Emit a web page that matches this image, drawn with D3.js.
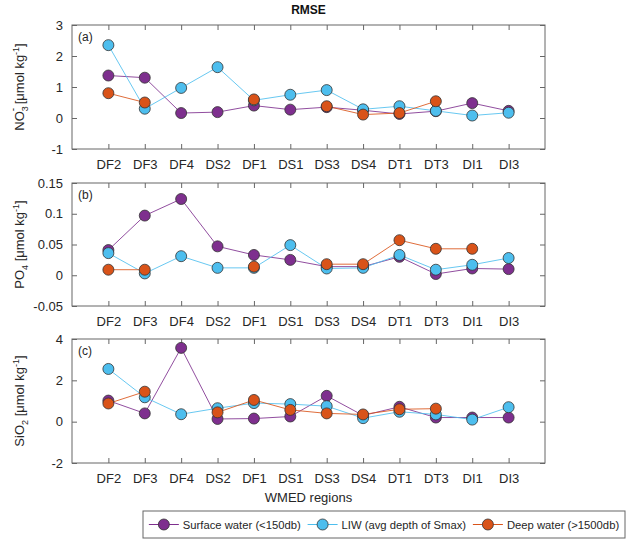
<!DOCTYPE html>
<html><head><meta charset="utf-8">
<script src="https://cdn.jsdelivr.net/npm/d3@7"></script>
<style>
body{margin:0;background:#fff;}
text{font-family:"Liberation Sans",Arial,sans-serif;}
</style></head>
<body><svg id="c" width="635" height="542"></svg>
<script>
const categories = ["DF2","DF3","DF4","DS2","DF1","DS1","DS3","DS4","DT1","DT3","DI1","DI3"];
const seriesNames = ["Surface water (<150db)","LIW (avg depth of Smax)","Deep water (>1500db)"];
const seriesColors = ["#7E2F8E","#4DBEEE","#D95319"];

// Panel (a) NO3
const no3Surface = [1.37,1.30,0.16,0.19,0.40,0.27,0.35,0.25,0.13,0.22,0.48,0.23];
const no3LIW     = [2.35,0.30,0.97,1.64,0.57,0.75,0.90,0.28,0.38,0.23,0.08,0.17];
const no3Deep    = [0.80,0.50,null,null,0.60,null,0.38,0.11,0.16,0.54,null,null];
// Panel (b) PO4
const po4Surface = [0.041,0.097,0.124,0.047,0.033,0.025,0.014,0.014,0.030,0.002,0.011,0.010];
const po4LIW     = [0.036,0.003,0.031,0.012,0.012,0.049,0.011,0.012,0.033,0.009,0.017,0.028];
const po4Deep    = [0.009,0.009,null,null,0.014,null,0.018,0.018,0.057,0.043,0.043,null];
// Panel (c) SiO2
const sio2Surface = [1.02,0.40,3.57,0.13,0.15,0.25,1.25,0.30,0.72,0.20,0.20,0.20];
const sio2LIW     = [2.55,1.18,0.36,0.65,0.90,0.85,0.75,0.17,0.48,0.35,0.10,0.70];
const sio2Deep    = [0.88,1.45,null,0.45,1.05,0.57,0.40,0.35,0.60,0.63,null,null];

const yTicksA = [-1,0,1,2,3];
const yTicksB = [-0.05,0,0.05,0.1,0.15];
const yTicksC = [-2,0,2,4];

const panels = [
  {tag:"(a)", top:25, bottom:149, domain:[-1,3], ticks:yTicksA, series:[no3Surface,no3LIW,no3Deep],
   label:[["NO",0],["3",1],["-",2],[" [μmol kg",0],["-1",3],["]",0]]},
  {tag:"(b)", top:183, bottom:306, domain:[-0.05,0.15], ticks:yTicksB, series:[po4Surface,po4LIW,po4Deep],
   label:[["PO",0],["4",1],[" [μmol kg",0],["-1",3],["]",0]]},
  {tag:"(c)", top:339, bottom:463, domain:[-2,4], ticks:yTicksC, series:[sio2Surface,sio2LIW,sio2Deep],
   label:[["SiO",0],["2",1],[" [μmol kg",0],["-1",3],["]",0]]}
];

const svg = d3.select("#c");
const left = 72, right = 545;
const x = d3.scalePoint().domain(categories).range([left,right]).padding(1);
const axisColor = "#666";
const textColor = "#262626";

svg.append("text").attr("x",(left+right)/2).attr("y",14).attr("text-anchor","middle")
  .attr("font-size",12).attr("font-weight","bold").attr("fill","#111").text("RMSE");

const fmt = d => String(+d.toFixed(2));

panels.forEach(p => {
  const y = d3.scaleLinear().domain(p.domain).range([p.bottom,p.top]);
  const g = svg.append("g");
  const xb = g.append("g").attr("transform",`translate(0,${p.bottom})`)
    .call(d3.axisBottom(x).tickSizeInner(-5).tickSizeOuter(0).tickPadding(11));
  const xt = g.append("g").attr("transform",`translate(0,${p.top})`)
    .call(d3.axisTop(x).tickSizeInner(-5).tickSizeOuter(0).tickFormat(""));
  const yl = g.append("g").attr("transform",`translate(${left},0)`)
    .call(d3.axisLeft(y).tickValues(p.ticks).tickSizeInner(-5).tickSizeOuter(0).tickPadding(9).tickFormat(fmt));
  const yr = g.append("g").attr("transform",`translate(${right},0)`)
    .call(d3.axisRight(y).tickValues(p.ticks).tickSizeInner(-5).tickSizeOuter(0).tickFormat(""));
  [xb,xt,yl,yr].forEach(a => {
    a.select(".domain").remove();
    a.selectAll("line").attr("stroke",axisColor);
    a.selectAll("text").attr("font-size",13).attr("fill",textColor).attr("font-family","'Liberation Sans',Arial,sans-serif");
  });
  g.append("rect").attr("x",left).attr("y",p.top).attr("width",right-left).attr("height",p.bottom-p.top)
    .attr("fill","none").attr("stroke",axisColor).attr("stroke-width",1);
  g.append("text").attr("x",left+6).attr("y",p.top+16).attr("font-size",12).attr("fill",textColor).text(p.tag);

  const cy = (p.top+p.bottom)/2;
  const lab = svg.append("text").attr("transform",`translate(24,${cy}) rotate(-90)`)
    .attr("text-anchor","middle").attr("font-size",13).attr("fill",textColor);
  let cur = 0;
  p.label.forEach(([t,kind]) => {
    const ts = lab.append("tspan").text(t);
    if (kind===0){ ts.attr("dy",-cur); cur=0; }
    else if (kind===1){ ts.attr("font-size",9).attr("dy",4-cur); cur=4; }
    else if (kind===2){ ts.attr("font-size",10).attr("dx",-5).attr("dy",-8-cur); cur=-8; }
    else if (kind===3){ ts.attr("font-size",9).attr("dy",-5-cur); cur=-5; }
  });

  p.series.forEach((vals,i) => {
    const data = categories.map((c,j)=>({c, v:vals[j]}));
    const line = d3.line().defined(d=>d.v!=null).x(d=>x(d.c)).y(d=>y(d.v));
    g.append("path").datum(data).attr("d",line).attr("fill","none")
      .attr("stroke",seriesColors[i]).attr("stroke-width",1).attr("stroke-opacity",0.85);
  });
  p.series.forEach((vals,i) => {
    const data = categories.map((c,j)=>({c, v:vals[j]})).filter(d=>d.v!=null);
    g.selectAll(null).data(data).enter().append("circle")
      .attr("cx",d=>x(d.c)).attr("cy",d=>y(d.v)).attr("r",5.5)
      .attr("fill",seriesColors[i]).attr("stroke","#333").attr("stroke-width",0.8);
  });
});

svg.append("text").attr("x",(left+right)/2).attr("y",502).attr("text-anchor","middle")
  .attr("font-size",13).attr("fill",textColor).text("WMED regions");

// legend
const lg = svg.append("g");
const lx = 143, ly = 511, lw = 482, lh = 27;
lg.append("rect").attr("x",lx).attr("y",ly).attr("width",lw).attr("height",lh)
  .attr("fill","#fff").attr("stroke",axisColor);
const lcy = ly + lh/2;
const sample = 30, tgap = 4, igap = 6, pad = 5;
let fs = 12;
const widths = () => seriesNames.map(n => {
  const t = lg.append("text").attr("font-size",fs).text(n);
  const w = t.node().getComputedTextLength(); t.remove(); return w;
});
let ws = widths();
while (pad*2 + 3*(sample+tgap) + 2*igap + d3.sum(ws) > lw && fs > 8) { fs -= 0.25; ws = widths(); }
const extra = (lw - (pad*2 + 3*(sample+tgap) + 2*igap + d3.sum(ws)))/2;
let px = lx + pad + extra/2;
seriesNames.forEach((n,i) => {
  lg.append("line").attr("x1",px).attr("x2",px+sample).attr("y1",lcy).attr("y2",lcy)
    .attr("stroke",seriesColors[i]).attr("stroke-width",1);
  lg.append("circle").attr("cx",px+sample/2).attr("cy",lcy).attr("r",5.5)
    .attr("fill",seriesColors[i]).attr("stroke","#333").attr("stroke-width",0.8);
  lg.append("text").attr("x",px+sample+tgap).attr("y",lcy+4.2).attr("font-size",fs)
    .attr("fill",textColor).text(n);
  px += sample + tgap + ws[i] + igap + extra/2;
});
</script></body></html>
